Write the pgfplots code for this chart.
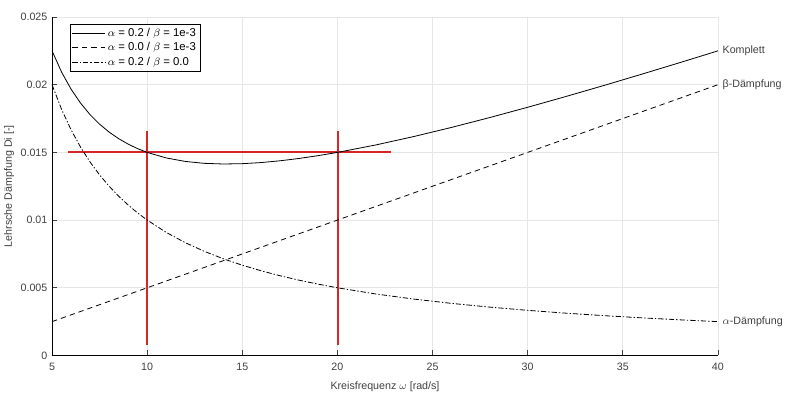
\documentclass[border=0pt]{standalone}
\usepackage{fontspec}
\setmainfont{Liberation Sans}
\usepackage{pgfplots}
\pgfplotsset{compat=1.18}
\definecolor{tickgray}{HTML}{404040}
\definecolor{gridgray}{HTML}{E6E6E6}
\definecolor{mred}{HTML}{D62728}
\begin{document}
\begin{tikzpicture}
\useasboundingbox (-39pt,-31.5pt) rectangle (554.25pt,266.25pt);
\begin{axis}[
  at={(0,0)}, anchor=south west,
  scale only axis,
  width=498.75pt, height=253.5pt,
  xmin=5, xmax=40, ymin=0, ymax=0.025,
  xtick={5,10,...,40},
  ytick={0,0.005,0.01,0.015,0.02,0.025},
  yticklabels={0,0.005,0.01,0.015,0.02,0.025},
  scaled y ticks=false,
  axis x line*=bottom, axis y line*=left,
  axis line style={black, line width=0.7pt},
  tick align=inside,
  major tick length=4pt,
  tick style={tickgray, line width=0.5pt},
  grid=major,
  major grid style={gridgray, line width=0.5pt},
  /pgf/number format/assume math mode=true,
  tick label style={font=\fontsize{8}{9.6}\selectfont, text=tickgray},
  xticklabel style={yshift=-2.5pt},
  label style={font=\fontsize{8}{9.6}\selectfont, text=tickgray},
  xlabel={Kreisfrequenz $\omega$ [rad/s]},
  ylabel={Lehrsche Dämpfung Di [-]},
  xlabel style={yshift=-1pt},
  ylabel style={yshift=-2pt},
  clip=false,
  unbounded coords=jump,
  legend style={at={(axis cs:5.95,0.0245)}, anchor=north west, font=\fontsize{8.5}{10.5}\selectfont,
    draw=black, line width=0.5pt, fill=white, inner sep=1.2pt, row sep=-1pt},
  legend cell align=left,
  legend image code/.code={\draw[#1, line width=0.6pt] (0cm,0cm) -- (0.85cm,0cm);},
]
\addplot[mred, line width=1.4pt, forget plot] coordinates {(5.85,0.015) (22.8,0.015)};
\addplot[mred, line width=1.4pt, forget plot] coordinates {(10,0.00075) (10,0.0166) (15,nan) (20.02,0.00075) (20.02,0.0166)};
\addplot[black, line width=0.6pt] coordinates {
(5,0.0225) (5.5,0.020932) (6,0.019667) (6.5,0.018635) (7,0.017786) (7.5,0.017083)
(8,0.0165) (8.5,0.016015) (9,0.015611) (9.5,0.015276) (10,0.015) (11,0.014591) (12,0.014333)
(13,0.014192) (14,0.014143) (15,0.014167) (16,0.01425) (17,0.014382) (18,0.014556)
(19,0.014763) (20,0.015) (22,0.015545) (24,0.016167) (26,0.016846) (28,0.017571)
(30,0.018333) (32,0.019125) (34,0.019941) (36,0.020778) (38,0.021632) (40,0.0225)};
\addlegendentry{$\alpha$ = 0.2 / $\beta$ = 1e-3}
\addplot[black, line width=0.6pt, dash pattern=on 4pt off 3pt] coordinates {
(5,0.0025) (40,0.02)};
\addlegendentry{$\alpha$ = 0.0 / $\beta$ = 1e-3}
\addplot[black, line width=0.6pt, dash pattern=on 4pt off 1.5pt on 1pt off 1.5pt] coordinates {
(5,0.02) (5.5,0.018182) (6,0.016667) (6.5,0.015385) (7,0.014286) (7.5,0.013333)
(8,0.0125) (8.5,0.011765) (9,0.011111) (9.5,0.010526) (10,0.01) (11,0.009091) (12,0.008333)
(13,0.007692) (14,0.007143) (15,0.006667) (16,0.00625) (17,0.005882) (18,0.005556)
(19,0.005263) (20,0.005) (22,0.004545) (24,0.004167) (26,0.003846) (28,0.003571)
(30,0.003333) (32,0.003125) (34,0.002941) (36,0.002778) (38,0.002632) (40,0.0025)};
\addlegendentry{$\alpha$ = 0.2 / $\beta$ = 0.0}
\node[anchor=west, font=\fontsize{8}{9.6}\selectfont, text=tickgray] at (axis cs:40,0.0225) {Komplett};
\node[anchor=west, font=\fontsize{8}{9.6}\selectfont, text=tickgray] at (axis cs:40,0.02) {β-Dämpfung};
\node[anchor=west, font=\fontsize{8}{9.6}\selectfont, text=tickgray] at (axis cs:40,0.0025) {$\alpha$-Dämpfung};
\end{axis}
\end{tikzpicture}
\end{document}
